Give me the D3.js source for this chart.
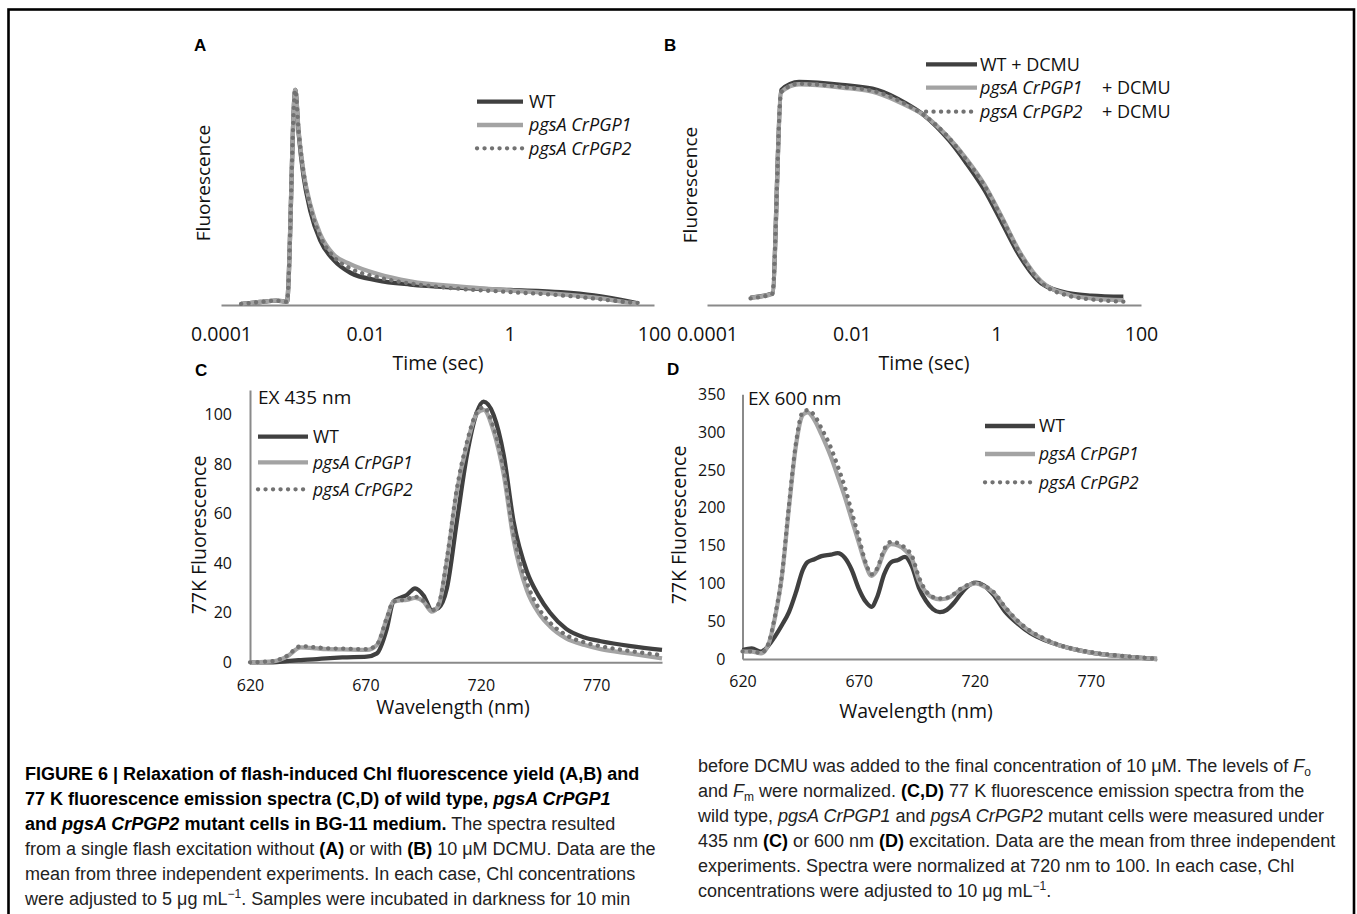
<!DOCTYPE html>
<html lang="en">
<head>
<meta charset="UTF-8">
<title>Figure 6</title>
<script src="https://cdnjs.cloudflare.com/ajax/libs/d3/7.8.5/d3.min.js"></script>
<style>
  body { margin: 0; background: #fff; }
  svg { display: block; }
</style>
</head>
<body>
<svg id="fig" width="1357" height="914"></svg>
<script>
// ---- data ----
var seriesNames = ["WT", "pgsA CrPGP1", "pgsA CrPGP2"];

// A: flash-induced fluorescence, no DCMU (time in s, normalised yield)
var timeA = [1.9e-4, 3.5e-4, 5.9e-4, 8.2e-4, 1.07e-3, 1.19e-3, 1.39e-3, 1.72e-3, 2.37e-3, 3.63e-3, 6.2e-3, 0.0146, 0.042, 0.209, 1.03, 5.1, 14.7, 47.9, 60];
var wtA   = [0.005, 0.014, 0.02, 0.015, 1.0, 0.80, 0.60, 0.44, 0.30, 0.21, 0.15, 0.115, 0.095, 0.08, 0.07, 0.06, 0.045, 0.015, 0.008];
var pgp1A = [0.005, 0.014, 0.02, 0.015, 1.0, 0.81, 0.62, 0.47, 0.33, 0.235, 0.19, 0.145, 0.11, 0.085, 0.068, 0.05, 0.035, 0.01, 0.006];
var pgp2A = [0.005, 0.014, 0.02, 0.015, 1.0, 0.81, 0.62, 0.46, 0.32, 0.225, 0.17, 0.13, 0.10, 0.075, 0.06, 0.045, 0.03, 0.012, 0.01];

// B: with DCMU
var timeB = [4.0e-4, 8.0e-4, 1.06e-3, 1.87e-3, 7.3e-3, 0.0228, 0.0564, 0.099, 0.22, 0.387, 0.684, 1.21, 2.13, 4.2, 10.4, 20.6, 57];
var wtB   = [0.033, 0.052, 0.964, 1.0, 0.987, 0.964, 0.904, 0.852, 0.74, 0.635, 0.516, 0.366, 0.217, 0.097, 0.052, 0.042, 0.037];
var pgp1B = [0.033, 0.05, 0.955, 0.99, 0.975, 0.95, 0.895, 0.852, 0.75, 0.655, 0.54, 0.39, 0.235, 0.105, 0.045, 0.03, 0.022];
var pgp2B = [0.03, 0.05, 0.955, 0.992, 0.978, 0.955, 0.9, 0.852, 0.75, 0.65, 0.535, 0.385, 0.23, 0.1, 0.04, 0.025, 0.015];

// C: 77K spectra, EX 435 nm
var nmC   = [620, 630, 636, 642, 649, 653, 660, 670.6, 675, 679.3, 682.1, 685, 687.9, 691.5, 695.2, 698.8, 701.7, 705.3, 709.6, 714, 718.3, 721.2, 725.5, 729.9, 734.2, 740, 745, 750, 757, 765, 772, 785, 798.5];
var wtC   = [0, 0, 0.5, 0.9, 1.3, 1.6, 2.0, 2.3, 3.6, 13.7, 24.5, 26, 27.2, 29.9, 27, 21.1, 22, 29.9, 56.8, 83.8, 101, 105.3, 100, 83.8, 56.8, 36.6, 27, 20, 13.5, 10, 8.5, 6.5, 5];
var pgp1C = [0, 0.4, 2.3, 6, 5.6, 5.3, 5.2, 5, 7, 17.8, 24.5, 25, 25.2, 26, 24.5, 20.5, 23, 41, 69, 88, 100.5, 102, 93.5, 76, 49.6, 29, 20, 14.5, 9.7, 7, 5.3, 3.5, 1.6];
var pgp2C = [0, 0.5, 2.6, 6.5, 6, 5.7, 5.5, 5.3, 7.2, 18, 24.5, 25, 25.5, 26.5, 24.8, 21, 23.5, 42, 70, 89, 101, 103, 95, 78, 52, 32, 22, 16, 11, 8, 6.5, 4.5, 2.9];

// D: 77K spectra, EX 600 nm
var nmD   = [620, 624, 628, 631, 634, 637, 640, 643, 646, 648, 651, 654, 658, 661, 664, 667, 670, 673, 675.5, 678, 681, 684, 687, 690, 693, 696, 699, 702, 705, 708, 711, 714, 717, 720.5, 724, 728, 733, 738, 744, 750, 756, 764, 772, 782, 798.5];
var wtD   = [11.9, 14, 9.7, 17, 30, 45, 62, 88, 118, 128, 132, 136, 138, 140, 134, 118, 93.5, 76, 69, 82, 112, 128, 131, 135, 122, 94, 77, 66, 62, 65, 74, 86, 96, 101, 97, 85, 63, 48, 34, 25, 18.5, 12, 7.5, 4, 0];
var pgp1D = [9.7, 9.7, 7.5, 18, 55, 110, 200, 282, 323, 326, 316, 297, 268, 242, 215, 185, 155, 125, 110, 118, 142, 152, 150, 144, 132, 104, 88, 81, 79, 80, 85, 92, 97, 100, 96, 88, 68, 51, 36, 26, 18.5, 12, 7.5, 4, 0];
var pgp2D = [10, 10, 8, 19, 57, 112, 203, 285, 327, 329, 322, 305, 280, 255, 228, 195, 162, 128, 112, 120, 145, 155, 153, 147, 136, 108, 90, 82, 80, 81, 86, 93, 98, 101, 97, 89, 69, 52, 37, 27, 19, 12.5, 8, 4.5, 0.5];

var tickValsAB   = [0.0001, 0.01, 1, 100];
var tickLabelsAB = ["0.0001", "0.01", "1", "100"];
var nmTicks      = [620, 670, 720, 770];
var yTicksC      = [0, 20, 40, 60, 80, 100];
var yTicksD      = [0, 50, 100, 150, 200, 250, 300, 350];

// line looks for WT, CrPGP1, CrPGP2
var lineColors = ["#404040", "#a3a3a3", "#727272"];
var lineDash   = [null, null, "0.1,7.4"];

var chartFont = "'Open Sans', sans-serif";
var svg = d3.select("#fig");

// outer frame
svg.append("rect")
  .attr("x", 8.5).attr("y", 9.5)
  .attr("width", 1345.5).attr("height", 940)
  .attr("fill", "none").attr("stroke", "#000").attr("stroke-width", 2.6);

function drawSeries(g, x, y, xs, vals) {
  var line = d3.line()
    .x(d => x(d[0]))
    .y(d => y(d[1]))
    .curve(d3.curveMonotoneX);
  vals.forEach(function(v, i) {
    g.append("path")
      .datum(xs.map((d, j) => [d, v[j]]))
      .attr("d", line)
      .attr("fill", "none")
      .attr("stroke", lineColors[i])
      .attr("stroke-width", 4.3)
      .attr("stroke-linecap", i == 2 ? "round" : "butt")
      .attr("stroke-linejoin", "round")
      .attr("stroke-dasharray", lineDash[i]);
  });
}

function styleAxis(g, size) {
  g.attr("font-family", chartFont).attr("font-size", size);
  g.select(".domain").attr("stroke", "#8a8a8a").attr("stroke-width", 2);
  g.selectAll(".tick line").remove();
  g.selectAll(".tick text").attr("fill", "#111");
}

function legend(x1, x2, tx, rows, size, suffix, suffixX) {
  rows.forEach(function(ry, i) {
    svg.append("line")
      .attr("x1", x1).attr("x2", x2).attr("y1", ry).attr("y2", ry)
      .attr("stroke", lineColors[i]).attr("stroke-width", 4.3)
      .attr("stroke-linecap", i == 2 ? "round" : "butt")
      .attr("stroke-dasharray", lineDash[i]);
    var t = svg.append("text")
      .attr("x", tx).attr("y", ry).attr("dy", "0.36em")
      .attr("font-family", chartFont).attr("font-size", size).attr("fill", "#111");
    if (i == 0) {
      t.text(seriesNames[i] + (suffix ? " " + suffix : ""));
    } else {
      t.append("tspan").attr("font-style", "italic").text(seriesNames[i]);
      if (suffix) {
        svg.append("text")
          .attr("x", suffixX).attr("y", ry).attr("dy", "0.36em")
          .attr("font-family", chartFont).attr("font-size", size).attr("fill", "#111")
          .text(suffix);
      }
    }
  });
}

function label(txt, x, y, size, rotate, anchor) {
  var t = svg.append("text")
    .attr("font-family", chartFont).attr("font-size", size).attr("fill", "#111")
    .attr("text-anchor", anchor || "middle")
    .text(txt);
  if (rotate) t.attr("transform", "translate(" + x + "," + y + ") rotate(-90)").attr("dy", "0.36em");
  else t.attr("x", x).attr("y", y);
  return t;
}

function panelLetter(txt, x, y) {
  svg.append("text")
    .attr("x", x).attr("y", y)
    .attr("font-family", "'Liberation Sans', Arial, sans-serif")
    .attr("font-weight", "bold").attr("font-size", 17).attr("fill", "#000")
    .text(txt);
}

// ---- panel A ----
var xA = d3.scaleLog().domain([1e-4, 100]).range([221, 654]);
var yA = d3.scaleLinear().domain([0, 1]).range([305, 90]);
svg.append("g").attr("transform", "translate(0,305)")
  .call(d3.axisBottom(xA).tickValues(tickValsAB).tickFormat((d, i) => tickLabelsAB[i]).tickSize(0).tickPadding(22))
  .call(g => styleAxis(g, 19.5));
drawSeries(svg.append("g"), xA, yA, timeA, [wtA, pgp1A, pgp2A]);
label("Time (sec)", 438, 370, 19.5);
label("Fluorescence", 203, 183, 19, true);
legend(477, 523, 529, [101.7, 125, 148.3], 18);
panelLetter("A", 194, 51);

// ---- panel B ----
var xB = d3.scaleLog().domain([1e-4, 100]).range([707, 1141]);
var yB = d3.scaleLinear().domain([0, 1]).range([305, 82]);
svg.append("g").attr("transform", "translate(0,305)")
  .call(d3.axisBottom(xB).tickValues(tickValsAB).tickFormat((d, i) => tickLabelsAB[i]).tickSize(0).tickPadding(22))
  .call(g => styleAxis(g, 19.5));
drawSeries(svg.append("g"), xB, yB, timeB, [wtB, pgp1B, pgp2B]);
label("Time (sec)", 924, 370, 19.5);
label("Fluorescence", 690, 185, 19, true);
legend(926, 977, 980, [64.3, 87.7, 111.7], 18, "+ DCMU", 1102);
panelLetter("B", 664, 51);

// ---- panel C ----
var xC = d3.scaleLinear().domain([620, 798.5]).range([250, 662]);
var yC = d3.scaleLinear().domain([0, 110]).range([662.3, 390]);
svg.append("g").attr("transform", "translate(0,662.3)")
  .call(d3.axisBottom(xC).tickValues(nmTicks).tickSize(0).tickPadding(17))
  .call(g => styleAxis(g, 16));
svg.append("g").attr("transform", "translate(250,0)")
  .call(d3.axisLeft(yC).tickValues(yTicksC).tickSize(0).tickPadding(18))
  .call(g => styleAxis(g, 16));
drawSeries(svg.append("g"), xC, yC, nmC, [wtC, pgp1C, pgp2C]);
label("Wavelength (nm)", 453, 714, 19.5);
label("77K Fluorescence", 199, 535, 19.5, true);
label("EX 435 nm", 258, 404, 19, false, "start");
legend(258, 308, 313, [436.7, 462.3, 489.3], 17.5);
panelLetter("C", 195, 376);

// ---- panel D ----
var xD = d3.scaleLinear().domain([620, 798.5]).range([742.5, 1157]);
var yD = d3.scaleLinear().domain([0, 350]).range([659, 394.3]);
svg.append("g").attr("transform", "translate(0,659)")
  .call(d3.axisBottom(xD).tickValues(nmTicks).tickSize(0).tickPadding(17))
  .call(g => styleAxis(g, 16));
svg.append("g").attr("transform", "translate(742.5,0)")
  .call(d3.axisLeft(yD).tickValues(yTicksD).tickSize(0).tickPadding(17))
  .call(g => styleAxis(g, 16));
drawSeries(svg.append("g"), xD, yD, nmD, [wtD, pgp1D, pgp2D]);
label("Wavelength (nm)", 916, 718, 19.5);
label("77K Fluorescence", 679, 525, 19.5, true);
label("EX 600 nm", 748, 405, 19, false, "start");
legend(985, 1035, 1039, [426, 454, 482.3], 17.5);
panelLetter("D", 667, 375);

// ---- caption ----
// segment styles: n normal, b bold, i italic, bi bold italic, sup, sub
var captionLeft = [
  [["b", "FIGURE 6 | Relaxation of flash-induced Chl fluorescence yield (A,B) and"]],
  [["b", "77 K fluorescence emission spectra (C,D) of wild type, "], ["bi", "pgsA CrPGP1"]],
  [["b", "and "], ["bi", "pgsA CrPGP2"], ["b", " mutant cells in BG-11 medium."], ["n", " The spectra resulted"]],
  [["n", "from a single flash excitation without "], ["b", "(A)"], ["n", " or with "], ["b", "(B)"], ["n", " 10 \u03bcM DCMU. Data are the"]],
  [["n", "mean from three independent experiments. In each case, Chl concentrations"]],
  [["n", "were adjusted to 5 \u03bcg mL"], ["sup", "\u22121"], ["n", ". Samples were incubated in darkness for 10 min"]]
];
var captionRight = [
  [["n", "before DCMU was added to the final concentration of 10 \u03bcM. The levels of "], ["i", "F"], ["sub", "o"]],
  [["n", "and "], ["i", "F"], ["sub", "m"], ["n", " were normalized. "], ["b", "(C,D)"], ["n", " 77 K fluorescence emission spectra from the"]],
  [["n", "wild type, "], ["i", "pgsA CrPGP1"], ["n", " and "], ["i", "pgsA CrPGP2"], ["n", " mutant cells were measured under"]],
  [["n", "435 nm "], ["b", "(C)"], ["n", " or 600 nm "], ["b", "(D)"], ["n", " excitation. Data are the mean from three independent"]],
  [["n", "experiments. Spectra were normalized at 720 nm to 100. In each case, Chl"]],
  [["n", "concentrations were adjusted to 10 \u03bcg mL"], ["sup", "\u22121"], ["n", "."]]
];

function caption(lines, x, y0, step) {
  lines.forEach(function(segs, li) {
    var t = svg.append("text")
      .attr("x", x).attr("y", y0 + li * step)
      .attr("font-family", "'Liberation Sans', Arial, sans-serif")
      .attr("font-size", 18).attr("fill", "#222");
    var shift = 0;
    segs.forEach(function(s) {
      var sp = t.append("tspan").text(s[1]);
      var dy = 0;
      if (s[0] == "sup") { sp.attr("font-size", 12); dy = -7; }
      else if (s[0] == "sub") { sp.attr("font-size", 12); dy = 4; }
      if (dy - shift != 0) sp.attr("dy", dy - shift);
      shift = dy;
      if (s[0] == "b" || s[0] == "bi") sp.attr("font-weight", "bold").attr("fill", "#000");
      if (s[0] == "i" || s[0] == "bi") sp.attr("font-style", "italic");
    });
  });
}
caption(captionLeft, 25, 780, 25);
caption(captionRight, 698, 772, 25);
</script>
</body>
</html>
